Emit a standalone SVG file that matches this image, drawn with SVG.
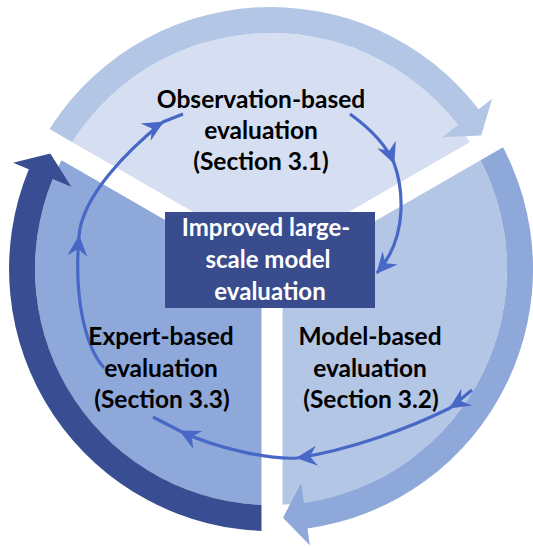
<svg xmlns="http://www.w3.org/2000/svg" width="533" height="548" viewBox="0 0 533 548">
<defs>
<style>
.lbl{font-family:Lato,"Liberation Sans",sans-serif;font-weight:bold;font-size:24.5px;fill:#000;text-anchor:middle}
.lblw{font-family:Lato,"Liberation Sans",sans-serif;font-weight:bold;font-size:24px;fill:#fff;text-anchor:middle}
.gap{fill:#fff}
.conn{fill:none;stroke:#4768c6;stroke-width:3.2;marker-mid:url(#ah)}
</style>
<marker id="ah" viewBox="-22 -11 24 22" refX="0" refY="0" markerWidth="24" markerHeight="22" markerUnits="userSpaceOnUse" orient="auto">
<path d="M1,0 L-20,-10 L-13,0 L-20,10 Z" fill="#4768c6"/>
</marker>
</defs>
<rect width="533" height="548" fill="#fff"/>
<g id="observation">
<path d="M271,269 L66.6,151 A236,236 0 0 1 475.4,151 Z" fill="#d6dff1"/>
<path d="M44.1,138 A262,262 0 0 1 478.6,109.2 L492.1,98.8 L481.2,135.6 L442.1,137.2 L458,125 A236,236 0 0 0 66.6,151 Z" fill="#b4c6e6"/>
</g>
<g id="model">
<path d="M271,269 L475.4,151 A236,236 0 0 1 271,505 Z" fill="#b4c6e6"/>
<path d="M497.9,138 A262,262 0 0 1 307.5,528.5 L309.8,545.3 L283,517.7 L301.1,482.9 L303.9,502.7 A236,236 0 0 0 475.4,151 Z" fill="#8ea8da"/>
</g>
<g id="expert">
<path d="M271,269 L271,505 A236,236 0 0 1 66.6,151 Z" fill="#8ea8da"/>
<path d="M271,531 A262,262 0 0 1 28.8,169.2 L13.1,162.7 L50.3,153.6 L71.3,186.7 L52.8,179.1 A236,236 0 0 0 271,505 Z" fill="#394e92"/>
</g>
<g id="gaps">
<rect class="gap" x="0" y="-10.5" width="320" height="21" transform="translate(271,269) rotate(210)"/>
<rect class="gap" x="0" y="-10.5" width="320" height="21" transform="translate(271,269) rotate(330)"/>
<rect class="gap" x="261.5" y="269" width="21" height="290"/>
</g>
<g id="connectors">
<path class="conn" d="M104,368 C84,345 74,295 79,236 C82,196 128,150 163,122 L183,114"/>
<path class="conn" d="M350,114 C368,127 386,145 394,163 C402,185 410,235 377,273" marker-end="url(#ah)"/>
<path class="conn" d="M472,390 L450,408 C410,428 350,450 297,458 C270,460 215,448 180,431 L153,417"/>
</g>
<g id="center">
<rect x="165" y="212" width="210" height="96" fill="#394c8e"/>
<text class="lblw" x="266" y="236">Improved large-</text>
<text class="lblw" x="268" y="268">scale model</text>
<text class="lblw" x="270" y="300">evaluation</text>
</g>
<g id="observation-label">
<text class="lbl" x="261" y="108">Observation-based</text>
<text class="lbl" x="261" y="139">evaluation</text>
<text class="lbl" x="261" y="170">(Section 3.1)</text>
</g>
<g id="model-label">
<text class="lbl" x="370" y="345">Model-based</text>
<text class="lbl" x="370" y="377">evaluation</text>
<text class="lbl" x="371" y="408">(Section 3.2)</text>
</g>
<g id="expert-label">
<text class="lbl" x="161" y="345">Expert-based</text>
<text class="lbl" x="161" y="377">evaluation</text>
<text class="lbl" x="162" y="408">(Section 3.3)</text>
</g>
</svg>
